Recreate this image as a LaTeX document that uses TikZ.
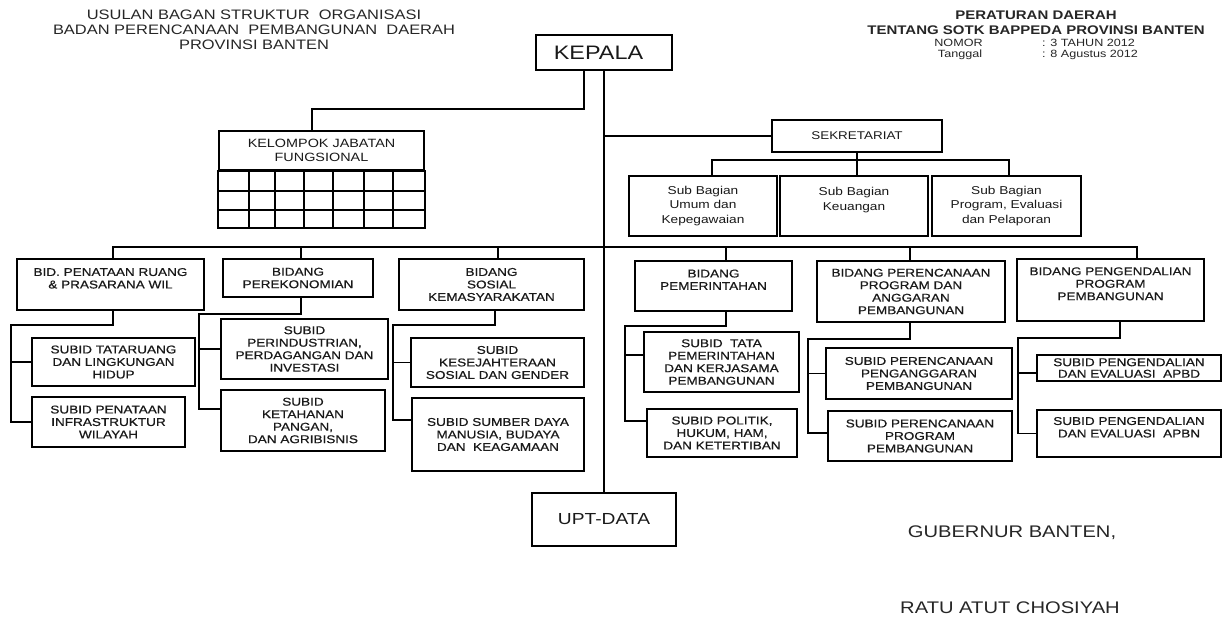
\documentclass[tikz,border=0pt]{standalone}
\usepackage{fontspec}
\setmainfont{Liberation Sans}[FakeStretch=1.2]
\newfontfamily\boxfnt{Liberation Sans}[FakeStretch=1.2, FakeBold=0.7]
\usetikzlibrary{calc}
\begin{document}
\begin{tikzpicture}[x=1pt,y=-1pt,
  box/.style={draw=black, line width=1.8pt, inner sep=1pt, align=center, text=black!90,
    font=\boxfnt\fontsize{11.3}{12.5}\selectfont},
  sbox/.style={box, font=\rmfamily\fontsize{11.4}{14.5}\selectfont},
  conn/.style={line width=1.3pt},
  mainline/.style={line width=2pt},
  txt/.style={inner sep=0pt, align=center, text=black!85}]
\useasboundingbox (0,0) rectangle (1229,626);

% titles
\node[txt, font=\fontsize{13.7}{15}\selectfont] (title) at (254,30) {USULAN BAGAN STRUKTUR\ \ ORGANISASI\\BADAN PERENCANAAN\ \ PEMBANGUNAN\ \ DAERAH\\PROVINSI BANTEN};
\node[txt, font=\bfseries\fontsize{12.5}{15}\selectfont] (perda) at (1036,22.5) {PERATURAN DAERAH\\TENTANG SOTK BAPPEDA PROVINSI BANTEN};
\node[txt, font=\fontsize{10.5}{12}\selectfont] (nomor) at (958.5,43) {NOMOR};
\node[txt, font=\fontsize{10.5}{12}\selectfont] (tgl) at (960,55) {Tanggal};
\node[txt, anchor=west, font=\fontsize{10.5}{12}\selectfont] (nomorv) at (1042,43) {: 3 TAHUN 2012};
\node[txt, anchor=west, font=\fontsize{10.5}{12}\selectfont] (tglv) at (1042,55) {: 8 Agustus 2012};

% top
\node[box, font=\rmfamily\fontsize{19.5}{22}\selectfont, minimum width=136pt, minimum height=35pt] (kep) at (604,52.5) {KEPALA\hspace*{11pt}};
\node[box, font=\rmfamily\fontsize{12}{14}\selectfont, minimum width=205pt, minimum height=39pt] (kel) at (321.5,150.5) {KELOMPOK JABATAN\\FUNGSIONAL};
\draw[line width=1.8pt] (kel.south west) rectangle ([yshift=-57pt]kel.south east);
\foreach \yy in {191,210} \draw[line width=1.6pt] (219,\yy) -- (424,\yy);
\foreach \xx in {249,275,304,333,364,393} \draw[line width=1.6pt] (\xx,170) -- (\xx,227);

\node[box, font=\rmfamily\fontsize{11.2}{13}\selectfont, minimum width=170pt, minimum height=32pt] (sek) at (857,136) {SEKRETARIAT};
\node[sbox, minimum width=148pt, minimum height=60pt] (sbA) at (703,206) {Sub Bagian\\Umum dan\\Kepegawaian};
\node[sbox, minimum width=148pt, minimum height=60pt] (sbB) at (854,206) {Sub Bagian\\Keuangan\\\mbox{}};
\node[sbox, minimum width=149pt, minimum height=60pt] (sbC) at (1006.5,206) {Sub Bagian\\Program, Evaluasi\\dan Pelaporan};

\node[box, minimum width=144pt, minimum height=53pt, font=\rmfamily\fontsize{16}{18}\selectfont] (upt) at (604,519.5) {UPT-DATA};

% bidang
\node[box, minimum width=187pt, minimum height=51pt] (b1) at (110.5,284.5) {BID. PENATAAN RUANG\\\& PRASARANA WIL\\\mbox{}};
\node[box, minimum width=150pt, minimum height=38pt] (b2) at (298,278) {BIDANG\\PEREKONOMIAN};
\node[box, minimum width=185pt, minimum height=51pt] (b3) at (491.5,284.5) {BIDANG\\SOSIAL\\KEMASYARAKATAN};
\node[box, minimum width=157pt, minimum height=50pt] (b4) at (713.5,286) {BIDANG\\PEMERINTAHAN\\\mbox{}};
\node[box, minimum width=188pt, minimum height=61pt] (b5) at (911,291.5) {BIDANG PERENCANAAN\\PROGRAM DAN\\ANGGARAN\\PEMBANGUNAN};
\node[box, minimum width=187pt, minimum height=62pt] (b6) at (1110.5,290) {BIDANG PENGENDALIAN\\PROGRAM\\PEMBANGUNAN\\\mbox{}};

% subid
\node[box, minimum width=163pt, minimum height=48pt] (s11) at (113.5,362) {SUBID TATARUANG\\DAN LINGKUNGAN\\HIDUP};
\node[box, minimum width=153pt, minimum height=50pt] (s12) at (108.5,422) {SUBID PENATAAN\\INFRASTRUKTUR\\WILAYAH};
\node[box, minimum width=167pt, minimum height=60pt] (s21) at (304.5,349) {SUBID\\PERINDUSTRIAN,\\PERDAGANGAN DAN\\INVESTASI};
\node[box, minimum width=164pt, minimum height=61pt] (s22) at (303,420.5) {SUBID\\KETAHANAN\\PANGAN,\\DAN AGRIBISNIS};
\node[box, minimum width=173pt, minimum height=49pt] (s31) at (497.5,362.5) {SUBID\\KESEJAHTERAAN\\SOSIAL DAN GENDER};
\node[box, minimum width=172pt, minimum height=73pt] (s32) at (498,434.5) {SUBID SUMBER DAYA\\MANUSIA, BUDAYA\\DAN\ \ KEAGAMAAN};
\node[box, minimum width=155pt, minimum height=60pt] (s41) at (721.5,362) {SUBID\ \ TATA\\PEMERINTAHAN\\DAN KERJASAMA\\PEMBANGUNAN};
\node[box, minimum width=150pt, minimum height=48pt] (s42) at (722,433) {SUBID POLITIK,\\HUKUM,\ HAM,\\DAN KETERTIBAN};
\node[box, minimum width=186pt, minimum height=51pt] (s51) at (919,373.5) {SUBID PERENCANAAN\\PENGANGGARAN\\PEMBANGUNAN};
\node[box, minimum width=184pt, minimum height=50pt] (s52) at (920,436) {SUBID PERENCANAAN\\PROGRAM\\PEMBANGUNAN};
\node[box, minimum width=184pt, minimum height=26pt, font=\boxfnt\fontsize{11.3}{11.5}\selectfont] (s61) at (1129,368) {SUBID PENGENDALIAN\\DAN EVALUASI\ \ APBD};
\node[box, minimum width=184pt, minimum height=47pt] (s62) at (1129,433.5) {SUBID PENGENDALIAN\\DAN EVALUASI\ \ APBN\\\mbox{}};

% bottom signature
\node[txt, font=\fontsize{16.8}{19}\selectfont] (gub) at (1012,533) {GUBERNUR BANTEN,};
\node[txt, font=\fontsize{16.8}{19}\selectfont] (ratu) at (1010,608) {RATU ATUT CHOSIYAH};

% connectors
\draw[mainline] (kep.south) -- (upt.north);
\draw[mainline] ([xshift=-20pt]kep.south) -- ++(0,38) -| ([xshift=-9.5pt]kel.north);
\draw[mainline] (kep.south |- sek.west) -- (sek.west);

\coordinate (sb) at (857,161);
\draw[mainline] (sek.south) -- (sb);
\draw[conn] ([xshift=9pt]sbA.north) -- ++(0,-15) -| ([xshift=2.5pt]sbC.north);
\draw[conn] ([xshift=3pt]sbB.north) -- ++(0,-15);

\coordinate (busL) at (113,247);
\coordinate (busR) at (1137,247);
\draw[conn] (busL) -- (busR);
\draw[conn] ([xshift=2.5pt]b1.north) -- ++(0,-12);
\draw[conn] ([xshift=3pt]b2.north) -- ++(0,-12);
\draw[conn] ([xshift=6.5pt]b3.north) -- ++(0,-12);
\draw[conn] ([xshift=12.5pt]b4.north) -- ++(0,-14);
\draw[conn] ([xshift=-1pt]b5.north) -- ++(0,-14);
\draw[conn] ([xshift=26.5pt]b6.north) -- ++(0,-12);

\coordinate (x1) at (11,0);
\coordinate (x2) at (199,0);
\coordinate (x3) at (393,0);
\coordinate (x4) at (625,0);
\coordinate (x5) at (808,0);
\coordinate (x6) at (1018,0);

\draw[conn] ([xshift=2.5pt]b1.south) -- ++(0,14) -| (s12.west -| x1) -- (s12.west);
\draw[conn] (s11.west) -- (s11.west -| x1);

\draw[conn] ([xshift=3pt]b2.south) -- ++(0,16) -| ([yshift=11.5pt]s22.west -| x2) -- ([yshift=11.5pt]s22.west);
\draw[conn] (s21.west) -- (s21.west -| x2);

\draw[conn] ([xshift=3.5pt]b3.south) -- ++(0,14) -| ([yshift=14.5pt]s32.west -| x3) -- ([yshift=14.5pt]s32.west);
\draw[conn] (s31.west) -- (s31.west -| x3);

\draw[conn] ([xshift=12.5pt]b4.south) -- ++(0,14) -| ([yshift=12pt]s42.west -| x4) -- ([yshift=12pt]s42.west);
\draw[conn] ([yshift=7pt]s41.west) -- ([yshift=7pt]s41.west -| x4);

\draw[conn] ([xshift=-1pt]b5.south) -- ++(0,16) -| ([yshift=3pt]s52.west -| x5) -- ([yshift=3pt]s52.west);
\draw[conn] (s51.west) -- (s51.west -| x5);

\draw[conn] ([xshift=9.5pt]b6.south) -- ++(0,16) -| (s62.west -| x6) -- (s62.west);
\draw[conn] ([yshift=-5pt]s61.west) -- ([yshift=-5pt]s61.west -| x6);
\end{tikzpicture}
\end{document}
